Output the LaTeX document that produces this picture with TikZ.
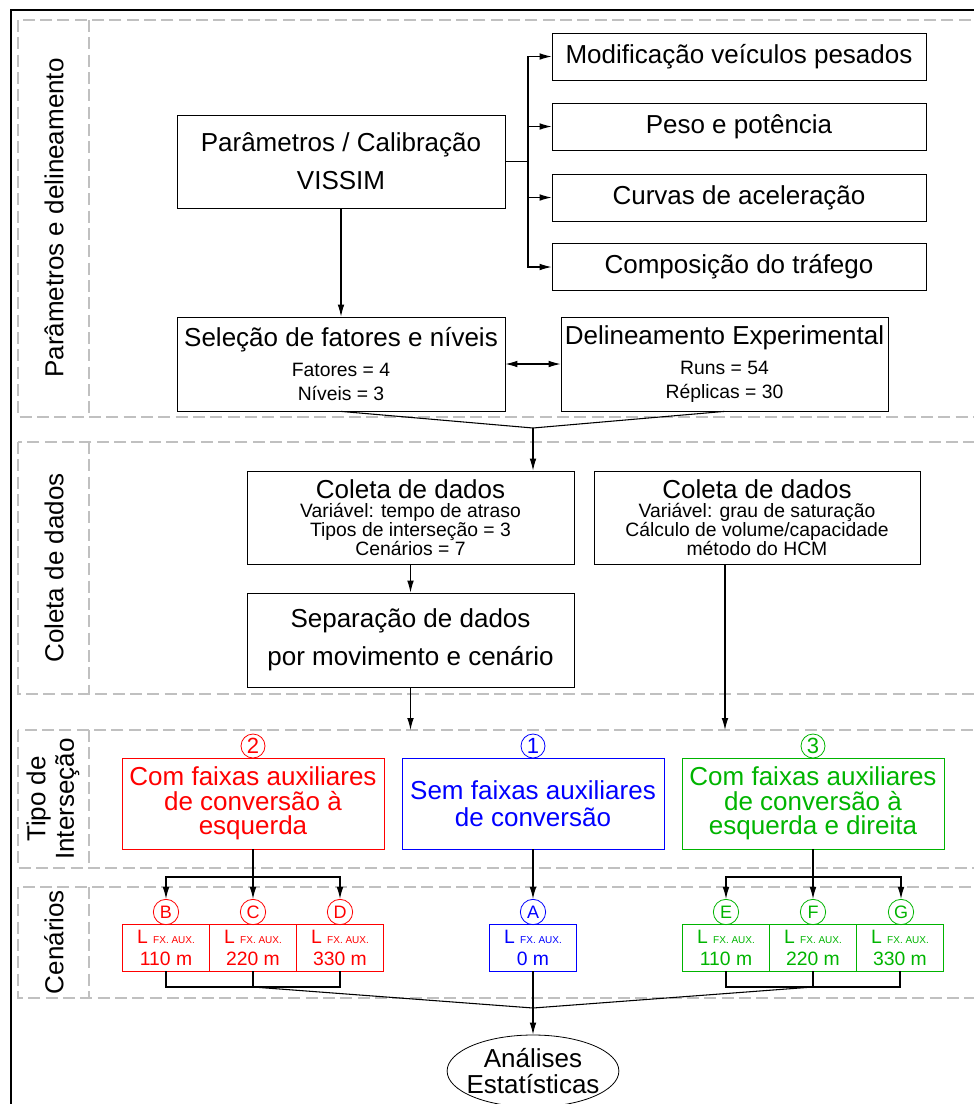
\documentclass[tikz,border=0pt]{standalone}
\usepackage{fontspec}
\setmainfont{Liberation Sans}
\usetikzlibrary{arrows.meta,shapes.geometric}
\definecolor{vermelho}{RGB}{255,0,0}
\definecolor{azul}{RGB}{0,0,255}
\definecolor{verde}{RGB}{0,180,0}
\definecolor{faixa}{RGB}{192,192,192}
\def\fa{\fontsize{19.5}{23}\selectfont}
\def\fb{\fontsize{14.5}{18}\selectfont}
\def\fd{\fontsize{14.5}{14.3}\selectfont}
\def\fc{\fontsize{7.5}{8}\selectfont}
\def\lfx{L {\fc FX. AUX.}}
\tikzset{
	caixa/.style 2 args={draw, line width=0.6pt, inner sep=0pt, minimum width=#1*0.75pt, minimum height=#2*0.75pt, align=center},
	seta/.style={line width=0.8pt, -{Latex[length=9pt,width=5pt]}},
	setas/.style={line width=0.8pt, {Latex[length=9pt,width=5pt]}-{Latex[length=9pt,width=5pt]}},
	liga/.style={line width=0.8pt},
	raia/.style={draw=faixa, line width=1pt, dash pattern=on 9pt off 4pt},
	circ/.style={circle, draw, line width=0.6pt, inner sep=0pt, minimum size=19pt, font=\fontsize{13.5}{13.5}\selectfont},
	num/.style={circle, draw, line width=0.6pt, inner sep=0pt, minimum size=18pt, font=\fontsize{16.5}{16.5}\selectfont}
}

\begin{document}
\begin{tikzpicture}[x=0.75pt, y=-0.75pt]
			%%%%% START %%%%%
			\useasboundingbox (0, 0) rectangle (974, 1104);
			
			\draw[line width=1.5pt] (11, 1110) -- (11, 10) -- (980, 10);
			
			\draw[raia] (18, 20) rectangle (990, 417);
			\draw[raia] (89, 20) -- (89, 417);
			\draw[raia] (18, 442) rectangle (990, 694);
			\draw[raia] (89, 442) -- (89, 694);
			\draw[raia] (18, 730) rectangle (990, 868);
			\draw[raia] (89, 730) -- (89, 868);
			\draw[raia] (18, 887) rectangle (990, 998);
			\draw[raia] (89, 887) -- (89, 998);
			
			\node[rotate=90, font=\fa] (lbpar) at (54, 218) {Parâmetros e delineamento};
			\node[rotate=90, font=\fa] (lbcol) at (54, 568) {Coleta de dados};
			\node[rotate=90, align=center, font=\fontsize{19.5}{21.5}\selectfont] (lbtipo) at (53, 799) {Tipo de\\Interseção};
			\node[rotate=90, font=\fa] (lbcen) at (54, 942) {Cenários};
			
			% parametros e delineamento
			\node[caixa={328}{93}, font=\fa] (par) at (341, 161.5) {Parâmetros / Calibração\\[5.5pt]VISSIM};
			\node[caixa={374}{47}, font=\fa] (mod) at (739, 56.5) {Modificação veículos pesados};
			\node[caixa={374}{47}, font=\fa] (peso) at (739, 126.5) {Peso e potência};
			\node[caixa={374}{47}, font=\fa] (curv) at (739, 197.5) {Curvas de aceleração};
			\node[caixa={374}{47}, font=\fa] (comp) at (739, 267) {Composição do tráfego};
			\coordinate (bk) at (528, 161.5);
			\draw[liga] (par.east) -- (bk);
			\draw[seta] (bk) |- (mod.west);
			\draw[seta] (bk) |- (peso.west);
			\draw[seta] (bk) |- (curv.west);
			\draw[seta] (bk) |- (comp.west);
			
			\node[caixa={328}{94}, font=\fb] (sel) at (341, 364) {{\fa Seleção de fatores e níveis}\\[4pt]Fatores = 4\\Níveis = 3};
			\node[caixa={327}{94}, font=\fb] (del) at (724.5, 364) {{\fa Delineamento Experimental}\\[4pt]Runs = 54\\Réplicas = 30};
			\draw[seta] (par.south) -- (sel.north);
			\draw[setas] (sel.east) -- (del.west);
			
			% coleta de dados
			\coordinate (m1) at (533, 428);
			\draw[liga] (sel.south) -- (m1);
			\draw[liga] (del.south) -- (m1);
			
			\node[caixa={327}{93}, font=\fd] (col1) at (410.5, 517.5) {{\fa Coleta de dados}\\Variável: tempo de atraso\\Tipos de interseção = 3\\Cenários = 7};
			\node[caixa={326}{93}, font=\fd] (col2) at (757, 517.5) {{\fa Coleta de dados}\\Variável: grau de saturação\\Cálculo de volume/capacidade\\método do HCM};
			\node[caixa={327}{94}, font=\fa] (sep) at (410.5, 640) {Separação de dados\\[5.5pt]por movimento e cenário};
			\draw[seta] (m1) -- (m1 |- col1.north);
			\draw[seta] (col1.south) -- (sep.north);
			
			\coordinate (t1) at (410.5, 730);
			\coordinate (t2) at (725, 730);
			\draw[seta] (sep.south) -- (t1);
			\draw[seta] (t2 |- col2.south) -- (t2);
			
			% tipo de intersecao
			\node[num, draw=vermelho, text=vermelho] (n2) at (253, 746) {2};
			\node[num, draw=azul, text=azul] (n1) at (533, 746) {1};
			\node[num, draw=verde, text=verde] (n3) at (813, 746) {3};
			
			\node[caixa={262}{91}, draw=vermelho, text=vermelho, font=\fontsize{19.5}{18.5}\selectfont] (tipo2) at (253, 803.5) {Com faixas auxiliares\\de conversão à\\esquerda};
			\node[caixa={262}{91}, draw=azul, text=azul, font=\fontsize{19.5}{20}\selectfont] (tipo1) at (533, 803.5) {Sem faixas auxiliares\\de conversão};
			\node[caixa={262}{91}, draw=verde, text=verde, font=\fontsize{19.5}{18.5}\selectfont] (tipo3) at (813, 803.5) {Com faixas auxiliares\\de conversão à\\esquerda e direita};
			
			% cenarios
			\node[circ, draw=vermelho, text=vermelho] (cB) at (166, 912) {B};
			\node[circ, draw=vermelho, text=vermelho] (cC) at (253, 912) {C};
			\node[circ, draw=vermelho, text=vermelho] (cD) at (340, 912) {D};
			\node[circ, draw=azul, text=azul] (cA) at (533, 912) {A};
			\node[circ, draw=verde, text=verde] (cE) at (726, 912) {E};
			\node[circ, draw=verde, text=verde] (cF) at (813, 912) {F};
			\node[circ, draw=verde, text=verde] (cG) at (901, 912) {G};
			
			\node[caixa={87}{47}, draw=vermelho, text=vermelho, font=\fontsize{14.5}{16.5}\selectfont] (bB) at (166, 947.5) {\lfx\\110 m};
			\node[caixa={87}{47}, draw=vermelho, text=vermelho, font=\fontsize{14.5}{16.5}\selectfont] (bC) at (253, 947.5) {\lfx\\220 m};
			\node[caixa={87}{47}, draw=vermelho, text=vermelho, font=\fontsize{14.5}{16.5}\selectfont] (bD) at (340, 947.5) {\lfx\\330 m};
			\node[caixa={87}{47}, draw=azul, text=azul, font=\fontsize{14.5}{16.5}\selectfont] (bA) at (533, 947.5) {\lfx\\0 m};
			\node[caixa={87}{47}, draw=verde, text=verde, font=\fontsize{14.5}{16.5}\selectfont] (bE) at (726, 947.5) {\lfx\\110 m};
			\node[caixa={87}{47}, draw=verde, text=verde, font=\fontsize{14.5}{16.5}\selectfont] (bF) at (813, 947.5) {\lfx\\220 m};
			\node[caixa={87}{47}, draw=verde, text=verde, font=\fontsize{14.5}{16.5}\selectfont] (bG) at (900, 947.5) {\lfx\\330 m};
			
			\coordinate (rj) at (253, 877);
			\coordinate (gj) at (813, 877);
			\draw[liga] (tipo2.south) -- (rj);
			\draw[seta] (rj) -| (cB.north);
			\draw[seta] (rj) -- (cC.north);
			\draw[seta] (rj) -| (cD.north);
			\draw[seta] (tipo1.south) -- (cA.north);
			\draw[liga] (tipo3.south) -- (gj);
			\draw[seta] (gj) -| (cE.north);
			\draw[seta] (gj) -- (cF.north);
			\draw[seta] (gj) -| (cG.north);
			
			% analises
			\node[ellipse, draw, line width=0.6pt, inner xsep=-4.3pt, inner ysep=0pt, minimum width=127pt, minimum height=54pt, align=center, font=\fontsize{19.5}{19.5}\selectfont] (res) at (533, 1071) {Análises\\Estatísticas};
			
			\coordinate (rb) at (253, 987);
			\coordinate (gb) at (813, 987);
			\coordinate (m2) at (533, 1008);
			\draw[liga] (bB.south) |- (rb) -| (bD.south);
			\draw[liga] (bC.south) -- (rb);
			\draw[liga] (bE.south) |- (gb) -| (bG.south);
			\draw[liga] (bF.south) -- (gb);
			\draw[liga] (rb) -- (m2);
			\draw[liga] (gb) -- (m2);
			\draw[seta] (bA.south) -- (res.north);
			
			%%%%% END %%%%%
\end{tikzpicture}
\end{document}
